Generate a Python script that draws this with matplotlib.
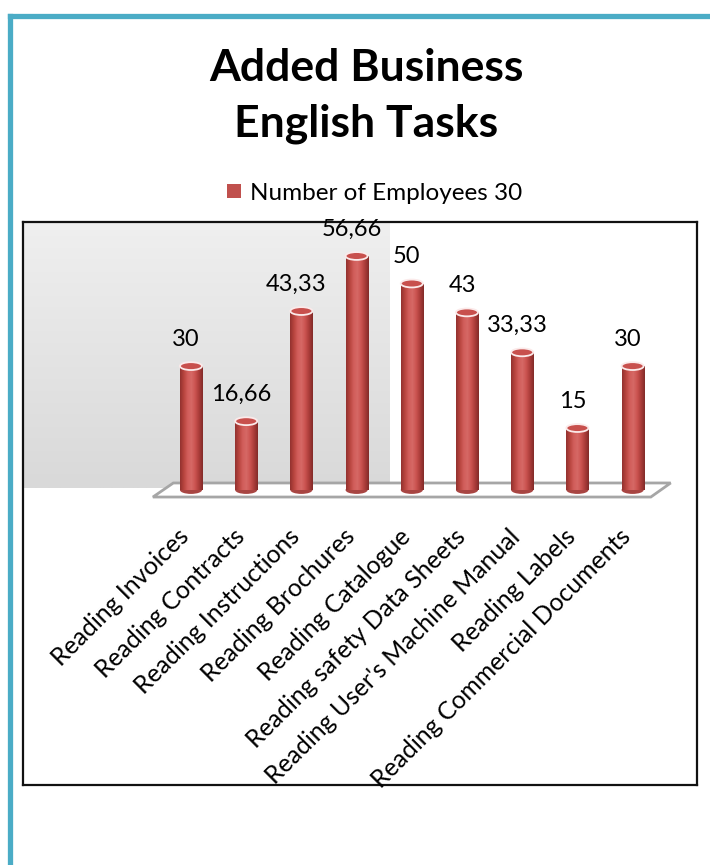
import numpy as np
import matplotlib.pyplot as plt
from matplotlib.patches import Polygon, Ellipse, Patch
from matplotlib.lines import Line2D
from matplotlib.colors import LinearSegmentedColormap

plt.rcParams['font.family'] = ['Lato', 'DejaVu Sans']

# ---------------- data ----------------
tasks = ['Reading Invoices', 'Reading Contracts', 'Reading Instructions',
         'Reading Brochures', 'Reading Catalogue', 'Reading safety Data Sheets',
         "Reading User's Machine Manual", 'Reading Labels',
         'Reading Commercial Documents']
employees = [30, 16.66, 43.33, 56.66, 50, 43, 33.33, 15, 30]
value_labels = ['30', '16,66', '43,33', '56,66', '50', '43', '33,33', '15', '30']
series_name = 'Number of Employees 30'
title = 'Added Business\nEnglish Tasks'

BAR_RED = '#C0504D'
W, H = 710, 865

fig = plt.figure(figsize=(W / 100, H / 100), dpi=100)

# teal frame of the slide
fig.add_artist(Line2D([9.5 / W, 9.5 / W], [0, 1 - 15.5 / H], color='#4BACC6',
                      lw=3.8, transform=fig.transFigure, solid_capstyle='projecting'))
fig.add_artist(Line2D([9.5 / W, 1], [1 - 15.5 / H, 1 - 15.5 / H], color='#4BACC6',
                      lw=3.8, transform=fig.transFigure, solid_capstyle='projecting'))

# plot area (pixel box of the black chart frame)
left, right, top, bottom = 23, 697, 222, 785
ax = fig.add_axes([left / W, 1 - bottom / H, (right - left) / W, (bottom - top) / H])

base_px, px_per_unit = 490, 4.13
x0_px, dx_px = 191, 55.2
ax.set_xlim(-(x0_px - left) / dx_px, (right - x0_px) / dx_px)
ax.set_ylim(-(bottom - base_px) / px_per_unit, (base_px - top) / px_per_unit)
ax.set_xticks([])
ax.set_yticks([])
for sp in ax.spines.values():
    sp.set_linewidth(1.6)
    sp.set_color('#111111')

# grey back wall on the left part
ymin, ymax = ax.get_ylim()
grad = np.linspace(0, 1, 100).reshape(-1, 1)
wall = LinearSegmentedColormap.from_list('wall', ['#d9d9d9', '#efefef'])
ax.imshow(grad, cmap=wall, origin='lower',
          extent=(ax.get_xlim()[0], 3.6, 0.5, ymax), aspect='auto', zorder=0)

# floor
floor = Polygon([(-0.32, 1.7), (8.69, 1.7), (8.33, -1.7), (-0.69, -1.7)],
                closed=True, facecolor='white', edgecolor='#a6a6a6', lw=2, zorder=1)
ax.add_patch(floor)

x = np.arange(len(tasks))
bar_w = 0.4
bars = ax.bar(x, employees, width=bar_w, color=BAR_RED, zorder=3)

# cylinder shading
shade = LinearSegmentedColormap.from_list(
    'cyl', ['#93322f', '#b8453f', '#d15d5a', '#d66966', '#cb5350', '#ab3d3a', '#832b29'])
hgrad = np.linspace(0, 1, 64).reshape(1, -1)
for b in bars:
    bx, bw, bh = b.get_x(), b.get_width(), b.get_height()
    im = ax.imshow(hgrad, cmap=shade, extent=(bx, bx + bw, 0, bh),
                   aspect='auto', zorder=3.5)
    im.set_clip_path(b)
    cx = bx + bw / 2
    ax.add_patch(Ellipse((cx, 0), bw, 1.9, facecolor='#a84542', edgecolor='none', zorder=3.2))
    ax.add_patch(Ellipse((cx, bh), bw, 1.9, facecolor='#c8504d',
                         edgecolor='#fbeaea', lw=1.3, zorder=4))

# data labels
for xi, v, lab in zip(x, employees, value_labels):
    ax.text(xi - 0.09, v + 6.5, lab, ha='center', va='center', fontsize=17, zorder=5)

# category labels
for xi, name in zip(x, tasks):
    ax.text(xi - 0.1, -10.4, name, ha='right', va='center', rotation=45,
            rotation_mode='anchor', fontsize=17.8)

fig.text(366 / W, 1 - 96 / H, title, ha='center', va='center', fontsize=32,
         fontweight='bold', linespacing=1.45)

fig.legend(handles=[Patch(facecolor=BAR_RED, edgecolor='none')], labels=[series_name],
           loc='center', bbox_to_anchor=(375 / W, 1 - 193 / H), frameon=False,
           fontsize=17.5, handlelength=0.55, handleheight=0.55, handletextpad=0.4)

fig.savefig('out.png', dpi=100, facecolor='white')
